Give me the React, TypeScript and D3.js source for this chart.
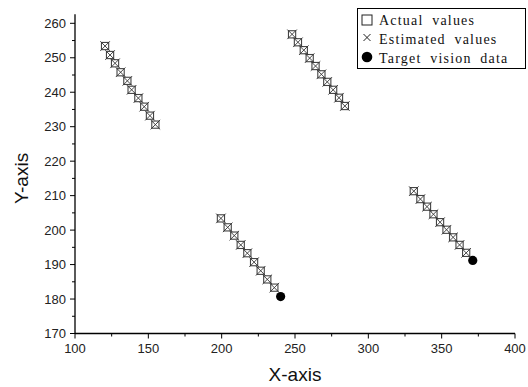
import React from "react";
import * as d3 from "d3";

// Actual values (squares)
const actualX = [
  120.5, 123.9, 127.3, 131.1, 135.7, 138.6, 143.2, 147.2, 151.1, 154.8,
  248, 252, 256, 260, 264, 268, 272, 276, 280, 284,
  199.5, 204.1, 208.6, 213, 217.5, 222.1, 226.6, 231.1, 235.9,
  331, 335.5, 340, 344.4, 348.9, 353.3, 357.8, 362.2, 366.7,
];
const actualY = [
  253.4, 250.8, 248.4, 245.8, 243.3, 240.7, 238.3, 235.8, 233.2, 230.6,
  256.8, 254.5, 252.2, 249.9, 247.6, 245.2, 243, 240.7, 238.4, 236,
  203.4, 200.8, 198.4, 195.7, 193.3, 190.7, 188.2, 185.7, 183.3,
  211.3, 209, 206.8, 204.6, 202.3, 200.1, 197.9, 195.7, 193.4,
];
// Estimated values (crosses)
const estimatedX = [...actualX];
const estimatedY = [...actualY];
// Target vision data (filled circles)
const targetX = [240.2, 371.2];
const targetY = [180.7, 191.2];

const xTicks = [100, 150, 200, 250, 300, 350, 400];
const xMinor = [125, 175, 225, 275, 325, 375];
const yTicks = [170, 180, 190, 200, 210, 220, 230, 240, 250, 260];
const yMinor = [175, 185, 195, 205, 215, 225, 235, 245, 255];
const legendLabels = ["Actual values", "Estimated values", "Target vision data"];

const W = 528;
const H = 387;

export default function App() {
  const x = d3.scaleLinear().domain([100, 400]).range([75, 515]);
  const y = d3.scaleLinear().domain([170, 260]).range([333.5, 23.3]);
  const axisTop = y(262.6);
  const sans = "Liberation Sans, Arial, sans-serif";
  const serif = "Liberation Serif, DejaVu Serif, serif";
  const sq = 3.6;
  const cx = 4.8;

  return (
    <svg
      width={W}
      height={H}
      style={{ position: "absolute", left: 0, top: 0, background: "#fff" }}
    >
      <rect x={0} y={0} width={W} height={H} fill="#fff" />
      {/* axes */}
      <line x1={x(100)} x2={x(400)} y1={y(170)} y2={y(170)} stroke="#000" strokeWidth={1.3} />
      <line x1={x(100)} x2={x(100)} y1={y(170)} y2={axisTop} stroke="#000" strokeWidth={1.3} />
      {xTicks.map((t) => (
        <g key={"xt" + t}>
          <line x1={x(t)} x2={x(t)} y1={y(170)} y2={y(170) + 5} stroke="#000" />
          <text x={x(t)} y={y(170) + 19} textAnchor="middle" fontFamily={sans} fontSize={13} fill="#222">
            {t}
          </text>
        </g>
      ))}
      {xMinor.map((t) => (
        <line key={"xm" + t} x1={x(t)} x2={x(t)} y1={y(170)} y2={y(170) + 3} stroke="#000" />
      ))}
      {yTicks.map((t) => (
        <g key={"yt" + t}>
          <line x1={x(100) - 5} x2={x(100)} y1={y(t)} y2={y(t)} stroke="#000" />
          <text x={x(100) - 9} y={y(t) + 4.5} textAnchor="end" fontFamily={sans} fontSize={13} fill="#222">
            {t}
          </text>
        </g>
      ))}
      {yMinor.map((t) => (
        <line key={"ym" + t} x1={x(100) - 3} x2={x(100)} y1={y(t)} y2={y(t)} stroke="#000" />
      ))}
      {/* axis titles */}
      <text x={(x(100) + x(400)) / 2} y={381} textAnchor="middle" fontFamily={sans} fontSize={19} fill="#111">
        X-axis
      </text>
      <text
        transform={`translate(28, ${(y(170) + y(260)) / 2}) rotate(-90)`}
        textAnchor="middle"
        fontFamily={sans}
        fontSize={19}
        fill="#111"
      >
        Y-axis
      </text>
      {/* actual values: squares */}
      {actualX.map((v, i) => (
        <rect
          key={"a" + i}
          x={x(v) - sq}
          y={y(actualY[i]) - sq}
          width={sq * 2}
          height={sq * 2}
          fill="none"
          stroke="#444"
          strokeWidth={1.1}
        />
      ))}
      {/* estimated values: crosses */}
      {estimatedX.map((v, i) => {
        const px = x(v);
        const py = y(estimatedY[i]);
        return (
          <path
            key={"e" + i}
            d={`M${px - cx},${py - cx}L${px + cx},${py + cx}M${px - cx},${py + cx}L${px + cx},${py - cx}`}
            stroke="#333"
            strokeWidth={0.9}
            fill="none"
          />
        );
      })}
      {/* target vision data */}
      {targetX.map((v, i) => (
        <circle key={"t" + i} cx={x(v)} cy={y(targetY[i])} r={4.6} fill="#000" />
      ))}
      {/* legend */}
      <g>
        <rect x={357.5} y={8.5} width={168} height={60} fill="#fff" stroke="#000" strokeWidth={1} />
        <rect x={362} y={15} width={10} height={10} fill="none" stroke="#222" strokeWidth={1} />
        <path d="M363.5,34L370.5,41M363.5,41L370.5,34" stroke="#222" strokeWidth={1} />
        <circle cx={367} cy={57} r={5.3} fill="#000" />
        {legendLabels.map((l, i) => (
          <text
            key={l}
            x={379}
            y={25 + i * 18.8}
            fontFamily={serif}
            fontSize={14}
            letterSpacing={1.2}
            wordSpacing={4}
            fill="#111"
          >
            {l}
          </text>
        ))}
      </g>
    </svg>
  );
}
